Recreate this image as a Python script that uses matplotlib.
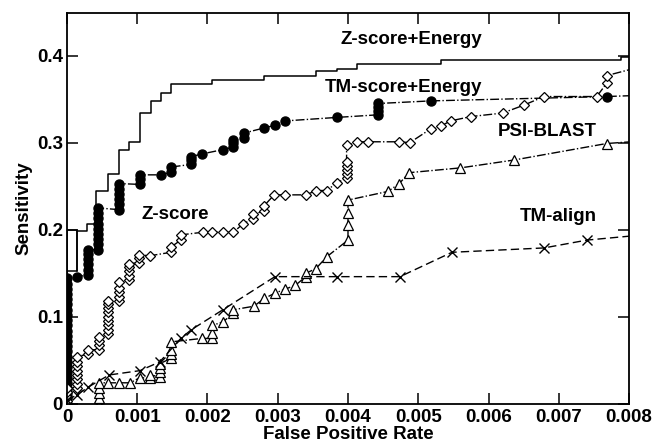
import numpy as np
import matplotlib.pyplot as plt

# Z-score+Energy (solid step curve)
zse_box_x = [0, 0, 0.00014, 0.00014, 0]
zse_box_y = [0, 0.2, 0.2, 0.152, 0.152]
zse_x = [0.00014, 0.00014, 0.00028, 0.00042, 0.00058, 0.00074, 0.00088, 0.00104, 0.00119,
         0.00134, 0.00148, 0.00207, 0.00281, 0.00354, 0.00384, 0.00413, 0.00532, 0.00789, 0.0081]
zse_y = [0.152, 0.198, 0.207, 0.245, 0.264, 0.292, 0.301, 0.334, 0.348,
         0.357, 0.367, 0.372, 0.377, 0.382, 0.385, 0.390, 0.395, 0.398, 0.398]

# TM-score+Energy (filled circles)
tse_x = [0] * 25 + [0.00014] + [0.0003] * 6 + [0.00044] * 9 + [0.00074] * 6 + [0.00104] * 3 + \
        [0.00134, 0.00148, 0.00148, 0.00177, 0.00177, 0.00177, 0.00192, 0.00222,
         0.00237, 0.00237, 0.00237, 0.00252, 0.00252, 0.00281, 0.00296, 0.00311, 0.00384,
         0.00443, 0.00443, 0.00443, 0.00443, 0.00518, 0.00768, 0.0082]
tse_y = [0.000, 0.006, 0.012, 0.018, 0.024, 0.030, 0.036, 0.042, 0.048, 0.054, 0.060, 0.066,
         0.072, 0.078, 0.084, 0.090, 0.096, 0.102, 0.108, 0.114, 0.120, 0.126, 0.132, 0.138, 0.144,
         0.146,
         0.148, 0.154, 0.160, 0.166, 0.172, 0.177,
         0.177, 0.183, 0.189, 0.195, 0.201, 0.207, 0.213, 0.219, 0.225,
         0.223, 0.229, 0.235, 0.241, 0.247, 0.253,
         0.252, 0.258, 0.263,
         0.263, 0.266, 0.272, 0.275, 0.280, 0.284, 0.287, 0.292,
         0.295, 0.300, 0.303, 0.305, 0.311, 0.317, 0.320, 0.325, 0.329,
         0.332, 0.336, 0.341, 0.345, 0.348, 0.353, 0.3545]

# Z-score (open diamonds)
zs_x = [0] * 4 + [0.00014] * 8 + [0.0003] * 2 + [0.00045] * 4 + [0.00059] * 9 + [0.00074] * 5 + \
       [0.00089] * 5 + [0.00103] * 3 + [0.00118, 0.00148, 0.00148, 0.00162, 0.00162,
       0.00193, 0.00207, 0.00222, 0.00237, 0.00251, 0.00265, 0.00265, 0.0028, 0.0028,
       0.00295, 0.0031, 0.0034, 0.00355, 0.0037, 0.00384] + [0.00398] * 6 + \
       [0.00413, 0.00429, 0.00473, 0.00488, 0.00518, 0.00532, 0.00546, 0.00575, 0.0062,
        0.0065, 0.00679, 0.00754, 0.00768, 0.00768, 0.0082]
zs_y = [0.003, 0.008, 0.013, 0.018,
        0.018, 0.023, 0.028, 0.033, 0.038, 0.043, 0.048, 0.054,
        0.057, 0.062,
        0.062, 0.067, 0.072, 0.077,
        0.080, 0.085, 0.090, 0.095, 0.100, 0.105, 0.110, 0.115, 0.118,
        0.118, 0.123, 0.128, 0.133, 0.140,
        0.142, 0.147, 0.152, 0.157, 0.161,
        0.162, 0.167, 0.171,
        0.170, 0.174, 0.180, 0.188, 0.194,
        0.197, 0.197, 0.197, 0.197, 0.207, 0.212, 0.218, 0.221, 0.227,
        0.240, 0.240, 0.240, 0.245, 0.245, 0.254,
        0.259, 0.264, 0.268, 0.273, 0.278, 0.297,
        0.301, 0.301, 0.301, 0.300, 0.316, 0.319, 0.325, 0.330, 0.334,
        0.343, 0.353, 0.353, 0.368, 0.377, 0.388]

# PSI-BLAST (open triangles)
psi_x = [0.00045] * 5 + [0.00059, 0.00074, 0.0009, 0.00104, 0.00118, 0.00118] + [0.00132] * 4 + \
        [0.00148] * 4 + [0.00192, 0.00207, 0.00207, 0.00207, 0.00222, 0.00237, 0.00237,
        0.00266, 0.00281, 0.00296, 0.0031, 0.00325, 0.0034, 0.0034, 0.00354, 0.0037] + \
        [0.004] * 4 + [0.00457, 0.00473, 0.00487, 0.0056, 0.00636, 0.00768, 0.0082]
psi_y = [0.0, 0.006, 0.012, 0.018, 0.024,
         0.024, 0.024, 0.024, 0.030, 0.029, 0.033,
         0.031, 0.036, 0.041, 0.046,
         0.052, 0.057, 0.062, 0.071,
         0.075, 0.075, 0.081, 0.090, 0.094, 0.104, 0.108,
         0.112, 0.121, 0.127, 0.1315, 0.136, 0.146, 0.150, 0.155, 0.169,
         0.188, 0.205, 0.219, 0.234,
         0.244, 0.253, 0.2655, 0.271, 0.280, 0.299, 0.302]

# TM-align (crosses)
tma_x = [0, 0.00014, 0.0003, 0.0006, 0.00104, 0.00132, 0.00162, 0.00177, 0.00222, 0.00296,
         0.00384, 0.00474, 0.00548, 0.00679, 0.0074, 0.0082]
tma_y = [0.004, 0.010, 0.019, 0.033, 0.038, 0.048, 0.075, 0.085, 0.108, 0.146,
         0.146, 0.146, 0.174, 0.179, 0.188, 0.194]

x_ticks = [0, 0.001, 0.002, 0.003, 0.004, 0.005, 0.006, 0.007, 0.008]
x_labels = ['0', '0.001', '0.002', '0.003', '0.004', '0.005', '0.006', '0.007', '0.008']
y_ticks = [0, 0.1, 0.2, 0.3, 0.4]
y_labels = ['0', '0.1', '0.2', '0.3', '0.4']

plt.rcParams['font.family'] = ['Liberation Sans', 'DejaVu Sans']
plt.rcParams['font.weight'] = 'bold'

fig = plt.figure(figsize=(6.54, 4.44), dpi=100)
ax = fig.add_axes([0.1024, 0.0908, 0.8594, 0.8799])

ax.plot(zse_box_x, zse_box_y, color='black', lw=1.1)
ax.step(zse_x, zse_y, where='post', color='black', lw=1.1)
ax.plot(tse_x, tse_y, color='black', lw=1.0, ls='-.', marker='o', ms=6.5,
        mfc='black', mec='black')
ax.plot(zs_x, zs_y, color='black', lw=1.0, ls='-.', marker='D', ms=5.2,
        mfc='white', mec='black', mew=0.9)
ax.plot(psi_x, psi_y, color='black', lw=1.0, ls='-.', marker='^', ms=7,
        mfc='white', mec='black', mew=0.9)
ax.plot(tma_x, tma_y, color='black', lw=1.0, ls=(0, (6, 3)), marker='x', ms=7,
        mec='black', mew=1.0)

fs = 13.5
ax.text(0.0049, 0.419, 'Z-score+Energy', fontsize=fs, fontweight='bold', ha='center', va='center')
ax.text(0.00479, 0.3637, 'TM-score+Energy', fontsize=fs, fontweight='bold', ha='center', va='center')
ax.text(0.00683, 0.3126, 'PSI-BLAST', fontsize=fs, fontweight='bold', ha='center', va='center')
ax.text(0.00699, 0.2157, 'TM-align', fontsize=fs, fontweight='bold', ha='center', va='center')
ax.text(0.00154, 0.217, 'Z-score', fontsize=fs, fontweight='bold', ha='center', va='center')

ax.set_xlim(0, 0.008)
ax.set_ylim(0, 0.449)
ax.set_xticks(x_ticks)
ax.set_xticklabels(x_labels)
ax.set_yticks(y_ticks)
ax.set_yticklabels(y_labels)
ax.tick_params(direction='in', length=8, width=1.1, top=True, right=True,
               labelsize=fs, pad=3)
ax.tick_params(axis='x', pad=4)
for s in ax.spines.values():
    s.set_linewidth(1.3)
ax.set_xlabel('False Positive Rate', fontsize=fs, fontweight='bold', labelpad=0)
ax.set_ylabel('Sensitivity', fontsize=fs, fontweight='bold', labelpad=3)

fig.savefig('out.png', dpi=100)
